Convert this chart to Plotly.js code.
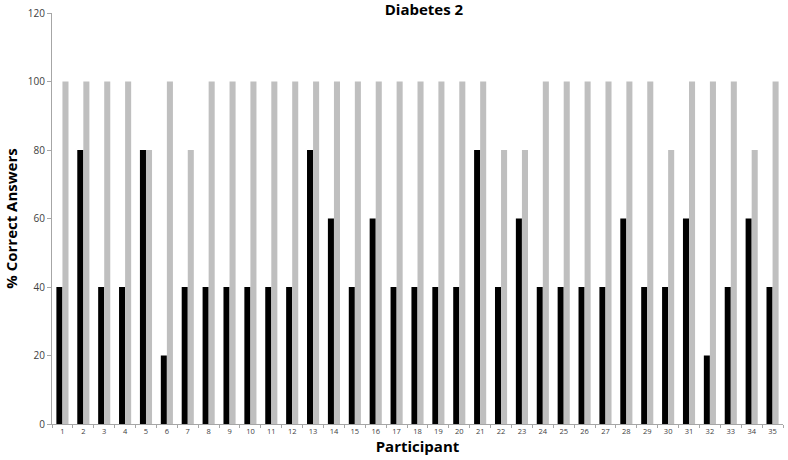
<!DOCTYPE html>
<html><head><meta charset="utf-8">
<script src="https://cdn.plot.ly/plotly-3.0.1.min.js"></script>
<style>html,body{margin:0;padding:0;background:#fff}#chart{width:788px;height:460px}</style>
</head><body><div id="chart"></div>
<script>
const participants = Array.from({length:35},(_,i)=>String(i+1));
const seriesA = [40,80,40,40,80,20,40,40,40,40,40,40,80,60,40,60,40,40,40,40,80,40,60,40,40,40,40,60,40,40,60,20,40,60,40];
const seriesB = [100,100,100,100,80,100,80,100,100,100,100,100,100,100,100,100,100,100,100,100,100,80,80,100,100,100,100,100,100,80,100,100,100,80,100];
const yTicks = [0,20,40,60,80,100,120];

const font = "'Open Sans', 'DejaVu Sans', sans-serif";
Plotly.newPlot('chart', [
  {type:'bar', x:participants, y:seriesA, marker:{color:'#000000'}, hoverinfo:'x+y'},
  {type:'bar', x:participants, y:seriesB, marker:{color:'#bfbfbf'}, hoverinfo:'x+y'}
], {
  width:788, height:460,
  margin:{l:52, r:5, t:13, b:36},
  paper_bgcolor:'#fff', plot_bgcolor:'#fff',
  showlegend:false,
  barmode:'group', bargap:0.42, bargroupgap:0,
  title:{text:'<b>Diabetes 2</b>', x:0.538, xanchor:'center', yref:'container', y:1, yanchor:'top', pad:{t:4}, font:{family:font, size:15, color:'#000'}},
  xaxis:{type:'category', tickvals:participants, showline:true, linecolor:'#a6a6a6', linewidth:1,
    ticks:'outside', tickson:'boundaries', ticklen:3, tickcolor:'#a6a6a6',
    tickfont:{family:font, size:7.5, color:'#404040'}, showgrid:false, zeroline:false,
    title:{text:'<b>Participant</b>', font:{family:font, size:15, color:'#000'}, standoff:4}},
  yaxis:{range:[0,120], tickvals:yTicks, showline:true, linecolor:'#a6a6a6', linewidth:1,
    ticks:'outside', ticklen:4, tickcolor:'#a6a6a6', showgrid:false, zeroline:false,
    tickfont:{family:font, size:10, color:'#404040'},
    title:{text:'<b>% Correct Answers</b>', font:{family:font, size:15, color:'#000'}, standoff:6}}
}, {displayModeBar:false, staticPlot:true});
</script></body></html>
